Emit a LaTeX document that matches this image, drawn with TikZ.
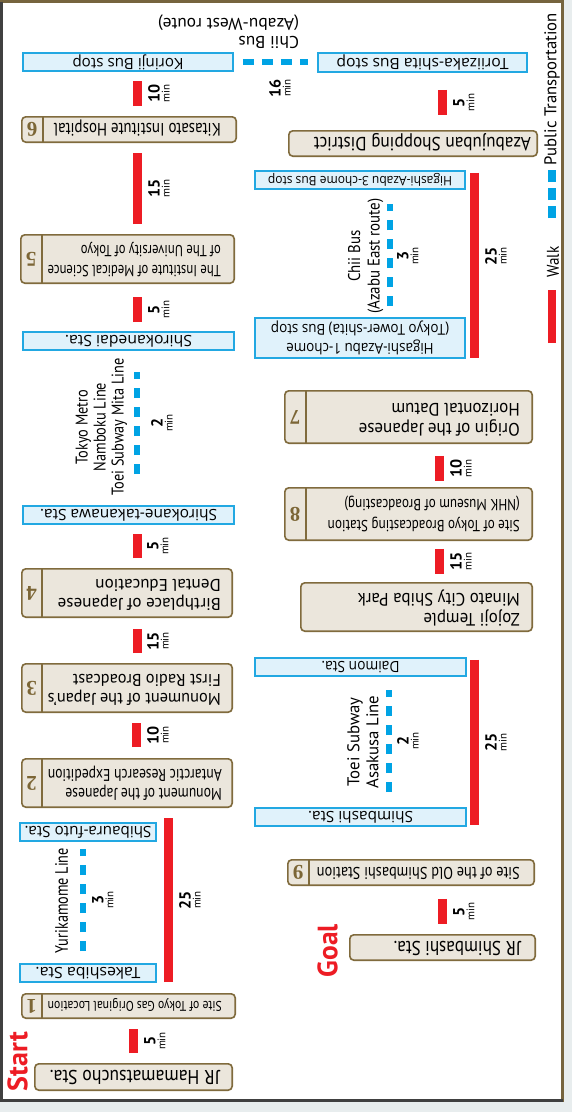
\documentclass[tikz,border=0pt]{standalone}
\usepackage{fontspec}
\usepackage{graphicx}
\setmainfont{PT Sans}
\newfontfamily\stfont{Open Sans}
\newfontfamily\numfont{Liberation Serif}
\definecolor{wred}{HTML}{ED1C24}
\definecolor{tblue}{HTML}{00A3E4}
\definecolor{stfill}{HTML}{E0F2FB}
\definecolor{stline}{HTML}{22A8E2}
\definecolor{lmfill}{HTML}{EBE6DC}
\definecolor{lmline}{HTML}{806B3D}
\definecolor{numcol}{HTML}{7C6636}
\definecolor{framecol}{HTML}{76643E}
\definecolor{bgcol}{HTML}{E8EDEE}
\newcommand{\LT}[4]{\resizebox{#1pt}{\height}{\fontsize{#2}{#3}\selectfont\begin{tabular}{@{}l@{}}#4\end{tabular}}}
\newcommand{\CT}[4]{\resizebox{#1pt}{\height}{\fontsize{#2}{#3}\selectfont\begin{tabular}{@{}c@{}}#4\end{tabular}}}
\newcommand{\ST}[4]{\rotatebox[origin=c]{180}{\resizebox{#1pt}{\height}{\stfont\fontsize{#2}{#3}\selectfont\begin{tabular}{@{}c@{}}#4\end{tabular}}}}
\newcommand{\StOne}[3]{\rotatebox[origin=c]{180}{\resizebox{#1pt}{\height}{\stfont\fontsize{#2}{#2}\selectfont #3}}}
\newcommand{\TM}[1]{{\bfseries\fontsize{16}{10}\selectfont #1}\\{\fontsize{11}{10}\selectfont min}}
\newcommand{\bx}[6]{\node[#1, minimum width={#4-#2-1.6}, minimum height={#5-#3-1.6}] (#6) at ({(#2+#4)/2},{(#3+#5)/2})}
\newcommand{\lmtab}[6]{\draw[lmline, line width=1.4pt] (#5,#3) -- (#5,#4);
  \node[numtxt] (#1) at ({(#2+#5)/2},{(#3+#4)/2}) {#6};}
\begin{document}
\begin{tikzpicture}[x=1pt,y=-1pt,
  lmbox/.style={draw=lmline, fill=lmfill, line width=1.6pt, rounded corners=4pt, inner sep=0pt},
  stbox/.style={draw=stline, fill=stfill, line width=1.6pt, inner sep=0pt},
  lmtext/.style={rotate=180, anchor=west, inner sep=0pt, text=black},
  numtxt/.style={rotate=180, inner sep=0pt, text=numcol, font=\numfont\bfseries\fontsize{21}{21}\selectfont},
  walk/.style={draw=wred, line width=9pt},
  transit/.style={draw=tblue, line width=6pt, dash pattern=on 10pt off 9pt},
  vlab/.style={rotate=90, inner sep=0pt},
  tmin/.style={rotate=90, anchor=north, inner sep=0pt, align=center, font=\fontsize{11}{10}\selectfont}]
\useasboundingbox (0,0) rectangle (572,1112);
\fill[bgcol] (0,0) rectangle (572,1112);
\draw[framecol, line width=3pt, fill=white] (1.5,1.5) rectangle (562.5,1100.5);
\draw[black!75, line width=3pt] (1.5,1.5) -- (1.5,1100.5) -- (562.5,1100.5);

% ---------- left column ----------
\bx{lmbox}{34}{1063}{233}{1091}{hama}{};
\node[lmtext] (hamat) at (220,1077) {\LT{170}{20}{32}{JR Hamamatsucho Sta.}};

\bx{lmbox}{21}{993}{236}{1019}{L1}{};
\lmtab{L1n}{21}{993}{1019}{42}{1}
\node[lmtext] (L1t) at (222,1006) {\LT{174}{14}{22}{Site of Tokyo Gas Original Location}};

\bx{stbox}{19}{963}{157}{983}{tak}{\StOne{105}{15.5}{Takeshiba Sta.}};
\bx{stbox}{19}{822}{157}{842}{shib}{\StOne{127}{15.5}{Shibaura-futo Sta.}};

\bx{lmbox}{21}{758}{233}{808}{L2}{};
\lmtab{L2n}{21}{758}{808}{42}{2}
\node[lmtext] (L2t) at (222,783) {\LT{174}{17}{19}{Monument of the Japanese\\Antarctic Research Expedition}};

\bx{lmbox}{21}{663}{233}{713}{L3}{};
\lmtab{L3n}{21}{663}{713}{42}{3}
\node[lmtext] (L3t) at (221,688) {\LT{173}{17}{19}{Monument of the Japan's\\First Radio Broadcast}};

\bx{lmbox}{21}{568}{233}{618}{L4}{};
\lmtab{L4n}{21}{568}{618}{42}{4}
\node[lmtext] (L4t) at (221,593) {\LT{163}{17}{19}{Birthplace of Japanese\\Dental Education}};

\bx{stbox}{22}{505}{235}{525}{stk}{\StOne{177}{15.5}{Shirokane-takanawa Sta.}};
\bx{stbox}{22}{331}{235}{351}{sdai}{\StOne{127}{15.5}{Shirokanedai Sta.}};

\bx{lmbox}{20}{234}{235}{284}{L5}{};
\lmtab{L5n}{20}{234}{284}{42}{5}
\node[lmtext] (L5t) at (221,259) {\LT{173}{16}{20}{The Institute of Medical Science\\of The University of Tokyo}};

\bx{lmbox}{21}{116}{237}{143}{L6}{};
\lmtab{L6n}{21}{116}{143}{43}{6}
\node[lmtext] (L6t) at (221,129.5) {\LT{167}{18}{29}{Kitasato Institute Hospital}};

\bx{stbox}{22}{52}{234}{72}{kor}{\StOne{111}{15.5}{Korinji Bus stop}};

% ---------- right column ----------
\bx{stbox}{317}{52}{528}{73}{tor}{\StOne{172}{15.5}{Toriizaka-shita Bus stop}};

\bx{lmbox}{288}{130}{538}{157}{azj}{};
\node[lmtext] (azjt) at (531,143.5) {\LT{217}{19}{30}{Azabujuban Shopping District}};

\bx{stbox}{254}{170}{466}{190}{h3}{\StOne{184}{13}{Higashi-Azabu 3-chome Bus stop}};
\bx{stbox}{254}{317}{466}{359}{h1}{\ST{178}{15}{19}{Higashi-Azabu 1-chome\\(Tokyo Tower-shita) Bus stop}};

\bx{lmbox}{284}{390}{533}{444}{L7}{};
\lmtab{L7n}{284}{390}{444}{306}{7}
\node[lmtext] (L7t) at (520,417) {\LT{161}{18}{20}{Origin of the Japanese\\Horizontal Datum}};

\bx{lmbox}{284}{487}{533}{541}{L8}{};
\lmtab{L8n}{284}{487}{541}{306}{8}
\node[lmtext] (L8t) at (520,514) {\LT{192}{16}{21}{Site of Tokyo Broadcasting Station\\(NHK Museum of Broadcasting)}};

\bx{lmbox}{300}{582}{533}{632}{zoj}{};
\node[lmtext] (zojt) at (520,607) {\LT{162}{18}{20}{Zojoji Temple\\Minato City Shiba Park}};

\bx{stbox}{254}{657}{467}{677}{dai}{\StOne{78}{15.5}{Daimon Sta.}};
\bx{stbox}{254}{807}{467}{827}{shm}{\StOne{105}{15.5}{Shimbashi Sta.}};

\bx{lmbox}{287}{859}{535}{886}{L9}{};
\lmtab{L9n}{287}{859}{886}{309}{9}
\node[lmtext] (L9t) at (520,872.5) {\LT{203}{17}{27}{Site of the Old Shimbashi Station}};

\bx{lmbox}{349}{934}{536}{961}{jrs}{};
\node[lmtext] (jrst) at (521,947.5) {\LT{127}{20}{32}{JR Shimbashi Sta.}};

% ---------- connector x positions ----------
\coordinate (xa) at (133.5,0);
\coordinate (xb) at (136.5,0);
\coordinate (xc) at (137,0);
\coordinate (xd) at (137.5,0);
\coordinate (xL) at (168.5,0);
\coordinate (xr) at (442.5,0);
\coordinate (xs) at (439.5,0);
\coordinate (xR) at (474.5,0);
\coordinate (ty) at (83,0);
\coordinate (tn) at (137,0);
\coordinate (te) at (389.5,0);
\coordinate (ta) at (389,0);

% walking
\draw[walk, shorten <=9.8pt, shorten >=9.8pt] (hama.north -| xa) -- (L1.south -| xa);
\draw[walk, shorten <=10.8pt, shorten >=9.8pt] (L1.north -| xL) -- (L2.south -| xL);
\draw[walk, shorten <=10.8pt, shorten >=9.8pt] (L2.north -| xb) -- (L3.south -| xb);
\draw[walk, shorten <=9.8pt, shorten >=10.8pt] (L3.north -| xc) -- (L4.south -| xc);
\draw[walk, shorten <=9.8pt, shorten >=8.8pt] (L4.north -| xc) -- (stk.south -| xc);
\draw[walk, shorten <=8.8pt, shorten >=12.8pt] (sdai.north -| xd) -- (L5.south -| xd);
\draw[walk, shorten <=9.8pt, shorten >=9.8pt] (L5.north -| xd) -- (L6.south -| xd);
\draw[walk, shorten <=9.8pt, shorten >=8.8pt] (L6.north -| xd) -- (kor.south -| xd);
\draw[walk, shorten <=16.8pt, shorten >=14.8pt] (tor.south -| xr) -- (azj.north -| xr);
\draw[walk, shorten <=2.8pt, shorten >=0.8pt] (h3.north -| xR) -- (h1.south -| xR);
\draw[walk, shorten <=11.8pt, shorten >=5.8pt] (L7.south -| xs) -- (L8.north -| xs);
\draw[walk, shorten <=7.8pt, shorten >=7.8pt] (L8.south -| xs) -- (zoj.north -| xs);
\draw[walk, shorten <=2.8pt, shorten >=1.8pt] (dai.north -| xR) -- (shm.south -| xR);
\draw[walk, shorten <=12.8pt, shorten >=9.8pt] (L9.south -| xr) -- (jrs.north -| xr);

% public transport
\draw[transit, shorten <=11.8pt, shorten >=6.8pt] (tak.north -| ty) -- (shib.south -| ty);
\draw[transit, shorten <=30.8pt, shorten >=20.8pt] (stk.north -| tn) -- (sdai.south -| tn);
\draw[transit, line width=5.5pt, dash pattern=on 11pt off 8pt, shorten <=8.8pt, shorten >=8.8pt] (kor.east) -- (kor.east -| tor.west);
\draw[transit, shorten <=10.8pt, shorten >=13.8pt] (h1.north -| te) -- (h3.south -| te);
\draw[transit, shorten <=14.8pt, shorten >=12.8pt] (shm.north -| ta) -- (dai.south -| ta);

% line names
\node[vlab] (yuri) at (61.5,900.5) {\resizebox{105pt}{\height}{\fontsize{18}{18}\selectfont Yurikamome Line}};
\node[vlab] (namb) at (102,427) {\CT{137}{17}{18}{Tokyo Metro\\Namboku Line\\Toei Subway Mita Line}};
\node[rotate=180, inner sep=0pt] (chiW) at (228.5,31) {\LT{141}{17}{18}{Chii Bus\\(Azabu-West route)}};
\node[vlab] (chiE) at (366,256) {\CT{115}{17}{19.5}{Chii Bus\\(Azabu East route)}};
\node[vlab] (asak) at (365,742) {\CT{93}{17}{19}{Toei Subway\\Asakusa Line}};

% times
\node[tmin] (m1) at (144,1041) {\TM{5}};
\node[tmin] (m2) at (147,735) {\TM{10}};
\node[tmin] (m3) at (147,641) {\TM{15}};
\node[tmin] (m4) at (147,546) {\TM{5}};
\node[tmin] (m5) at (148,309.5) {\TM{5}};
\node[tmin] (m6) at (148,188.5) {\TM{15}};
\node[tmin] (m7) at (148,93.5) {\TM{10}};
\node[tmin] (m8) at (453,102.5) {\TM{5}};
\node[tmin] (m9) at (450,468.5) {\TM{10}};
\node[tmin] (m10) at (450,561.5) {\TM{15}};
\node[tmin] (m11) at (453,911.5) {\TM{5}};
\node[tmin] (m12) at (179,900) {\TM{25}};
\node[tmin] (m13) at (485,256) {\TM{25}};
\node[tmin] (m14) at (485,742.5) {\TM{25}};
\node[tmin] (t1) at (92,900) {\TM{3}};
\node[tmin] (t2) at (151,423) {\TM{2}};
\node[tmin] (t3) at (397,256) {\TM{3}};
\node[tmin] (t4) at (397,741) {\TM{2}};
\node[tmin] (t5) at (269,88) {\TM{16}};

% start / goal
\node[vlab, text=wred] (start) at (17.5,1061.5) {\resizebox{59pt}{\height}{\bfseries\fontsize{28}{28}\selectfont Start}};
\node[vlab, text=wred] (goal) at (327.5,950.5) {\resizebox{53pt}{\height}{\bfseries\fontsize{28}{28}\selectfont Goal}};

% legend
\coordinate (lgA) at (552,343);
\coordinate (lgB) at (552,290);
\coordinate (lgC) at (552,218);
\coordinate (lgD) at (552,170);
\draw[walk, line width=8pt] (lgA) -- (lgB);
\draw[tblue, line width=8pt, dash pattern=on 12pt off 6pt] (lgC) -- (lgD);
\node[vlab] (walkt) at (553,262) {\resizebox{31pt}{\height}{\fontsize{17}{17}\selectfont Walk}};
\node[vlab] (ptt) at (552,89) {\resizebox{152pt}{\height}{\fontsize{17}{17}\selectfont Public Transportation}};
\end{tikzpicture}
\end{document}
